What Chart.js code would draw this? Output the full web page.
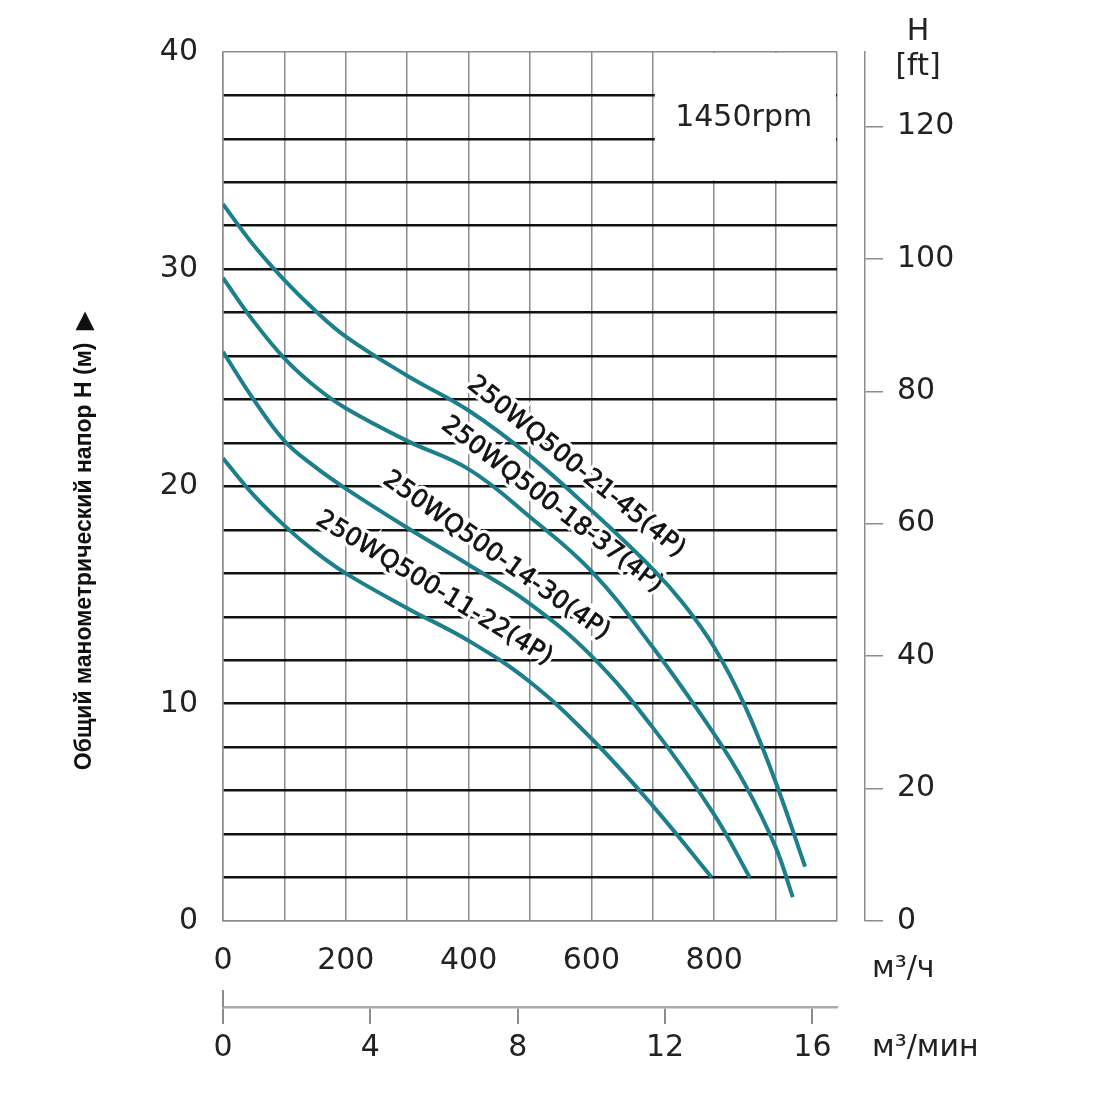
<!DOCTYPE html>
<html>
<head>
<meta charset="utf-8">
<script src="https://cdn.jsdelivr.net/npm/chart.js@4"></script>
<style>
  body { margin: 0; background: #fff; }
</style>
</head>
<body>
<canvas id="pump-chart" width="1100" height="1100"></canvas>
<script>
// flow, m3/h and head, m
const names = ['250WQ500-21-45(4P)', '250WQ500-18-37(4P)', '250WQ500-14-30(4P)', '250WQ500-11-22(4P)']

const q45 = [0, 50, 100, 150, 200, 300, 400, 500, 600, 700, 750, 800, 850, 900, 948]
const h45 = [33.0, 31.1, 29.5, 28.1, 26.9, 25.1, 23.5, 21.4, 18.9, 16.2, 14.6, 12.6, 9.9, 6.4, 2.5]

const q37 = [0, 50, 100, 150, 200, 300, 400, 500, 600, 700, 800, 850, 900, 928]
const h37 = [29.6, 27.6, 25.9, 24.6, 23.6, 22.1, 20.8, 18.6, 16.1, 12.6, 8.6, 6.3, 3.4, 1.1]

const q30 = [0, 50, 100, 150, 200, 300, 400, 500, 600, 700, 800, 858]
const h30 = [26.2, 24.0, 22.1, 20.9, 19.9, 18.1, 16.4, 14.6, 12.2, 8.9, 4.9, 2.0]

const q22 = [0, 50, 100, 150, 200, 300, 400, 500, 600, 700, 796]
const h22 = [21.3, 19.6, 18.2, 17.0, 16.0, 14.4, 12.9, 11.0, 8.4, 5.3, 2.0]

const headTicks = [0, 10, 20, 30, 40]
const flowTicks = [0, 200, 400, 600, 800]
const ftTicks = [0, 20, 40, 60, 80, 100, 120]
const minTicks = [0, 4, 8, 12, 16]

const M_PER_FT = 0.3048
const TEAL = '#1d7f8b'
const GREY = '#8c8c8c'
const FONT = 'DejaVu Sans'

const toPoints = (qs, hs) => qs.map((q, i) => ({ x: q, y: hs[i] }))

const series = [
  toPoints(q45, h45),
  toPoints(q37, h37),
  toPoints(q30, h30),
  toPoints(q22, h22)
]

// where each curve name sits (data units) and its slope in degrees
const curveLabels = [
  { q: 575, h: 20.9, angle: 39 },
  { q: 536, h: 19.15, angle: 37.5 },
  { q: 445, h: 16.8, angle: 35.5 },
  { q: 344, h: 15.3, angle: 31.5 }
]

const keepOnly = list => scale => {
  scale.ticks = scale.ticks.filter(t => list.includes(Math.round(t.value * 1000) / 1000))
}

const extras = {
  id: 'extras',
  beforeDatasetsDraw(chart) {
    const { ctx, scales: { x, y } } = chart
    // the 1450rpm box clears the grid in its corner
    ctx.save()
    ctx.fillStyle = '#fff'
    const x0 = x.getPixelForValue(700) + 2
    const x1 = x.getPixelForValue(1000) - 1
    const y0 = y.getPixelForValue(40) + 1
    const y1 = y.getPixelForValue(34) - 2
    ctx.fillRect(x0, y0, x1 - x0, y1 - y0)
    ctx.fillStyle = '#222'
    ctx.font = '30px ' + FONT
    ctx.textAlign = 'center'
    ctx.textBaseline = 'middle'
    ctx.fillText('1450rpm', x.getPixelForValue(848), y.getPixelForValue(36.95))

    // curve names, with a white halo that breaks the grid lines
    ctx.font = '25px ' + FONT
    curveLabels.forEach((l, i) => {
      ctx.save()
      ctx.translate(x.getPixelForValue(l.q), y.getPixelForValue(l.h))
      ctx.rotate(l.angle * Math.PI / 180)
      ctx.lineWidth = 7
      ctx.strokeStyle = '#fff'
      ctx.strokeText(names[i], 0, 0)
      ctx.fillStyle = '#111'
      ctx.fillText(names[i], 0, 0)
      ctx.lineWidth = 0.7
      ctx.strokeStyle = '#111'
      ctx.strokeText(names[i], 0, 0)
      ctx.restore()
    })
    ctx.restore()
  },
  afterDraw(chart) {
    const { ctx, chartArea, scales: { y2, x2 } } = chart
    ctx.save()
    ctx.fillStyle = '#222'
    ctx.textBaseline = 'middle'
    ctx.textAlign = 'center'
    ctx.font = '30px ' + FONT
    const hx = y2.left + 53
    ctx.fillText('H', hx, 32)
    ctx.fillText('[ft]', hx, 67)

    ctx.textAlign = 'left'
    ctx.fillText('м³/ч', chartArea.right + 35, 969)
    ctx.fillText('м³/мин', chartArea.right + 35, 1048)

    // the 0 mark of the lower scale reaches above its line
    ctx.strokeStyle = GREY
    ctx.lineWidth = 2
    ctx.beginPath()
    ctx.moveTo(x2.getPixelForValue(0), x2.top - 17)
    ctx.lineTo(x2.getPixelForValue(0), x2.top)
    ctx.stroke()

    // rotated axis title
    ctx.translate(85, chartArea.bottom - 380)
    ctx.rotate(-Math.PI / 2)
    ctx.textAlign = 'center'
    ctx.fillStyle = '#111'
    ctx.font = 'bold 23px "Liberation Sans"'
    ctx.fillText('Общий манометрический напор H (м)  ▶', 0, 0)
    ctx.restore()
  }
}

const tickFont = { family: FONT, size: 30 }

const options = {
  type: 'line',
  data: {
    datasets: series.map((pts, i) => ({
      label: names[i],
      data: pts,
      borderColor: TEAL,
      borderWidth: 4,
      pointRadius: 0,
      fill: false,
      tension: 0.4,
      xAxisID: 'x',
      yAxisID: 'y'
    }))
  },
  options: {
    responsive: false,
    animation: false,
    devicePixelRatio: 1,
    layout: { padding: { top: 52, left: 0, right: 0, bottom: 0 } },
    plugins: { legend: { display: false }, tooltip: { enabled: false } },
    scales: {
      x: {
        type: 'linear',
        position: 'bottom',
        min: 0,
        max: 1000,
        afterFit: s => { s.height = 86 },
        grid: { color: GREY, lineWidth: 1.5, drawTicks: false },
        border: { color: GREY, width: 1.5 },
        ticks: {
          stepSize: 100,
          autoSkip: false,
          maxRotation: 0,
          padding: 22,
          color: '#222',
          font: tickFont,
          callback: v => flowTicks.includes(v) ? v : ''
        }
      },
      x2: {
        type: 'linear',
        position: 'bottom',
        min: 0,
        max: 1000 / 60,
        afterBuildTicks: keepOnly(minTicks),
        afterFit: s => { s.height = 93 },
        grid: { drawOnChartArea: false, color: GREY, lineWidth: 2, tickLength: 17 },
        border: { color: '#aaa', width: 2.5 },
        ticks: { stepSize: 4, includeBounds: false, autoSkip: false, maxRotation: 0, padding: 6, color: '#222', font: tickFont }
      },
      y: {
        type: 'linear',
        position: 'left',
        min: 0,
        max: 40,
        afterFit: s => { s.width = 223 },
        grid: {
          drawTicks: false,
          color: c => (c.tick.value === 0 || c.tick.value === 40) ? GREY : '#111',
          lineWidth: c => (c.tick.value === 0 || c.tick.value === 40) ? 1.5 : 2.6
        },
        border: { color: GREY, width: 1.5 },
        ticks: {
          stepSize: 2,
          autoSkip: false,
          padding: 25,
          color: '#222',
          font: tickFont,
          callback: v => headTicks.includes(v) ? v : ''
        }
      },
      gap: {
        type: 'linear',
        position: 'right',
        weight: 0,
        min: 0,
        max: 1,
        afterFit: s => { s.width = 28 },
        grid: { display: false },
        border: { display: false },
        ticks: { display: false }
      },
      y2: {
        type: 'linear',
        position: 'right',
        weight: 1,
        min: 0,
        max: 40 / M_PER_FT,
        afterBuildTicks: keepOnly(ftTicks),
        afterFit: s => { s.width = 235 },
        grid: { drawOnChartArea: false, color: GREY, lineWidth: 1.5, tickLength: 18 },
        border: { color: GREY, width: 1.5 },
        ticks: { stepSize: 20, includeBounds: false, autoSkip: false, padding: 14, color: '#222', font: tickFont }
      }
    }
  },
  plugins: [extras]
}

const canvas = document.getElementById('pump-chart').getContext('2d')
new Chart(canvas, options)
</script>
</body>
</html>
